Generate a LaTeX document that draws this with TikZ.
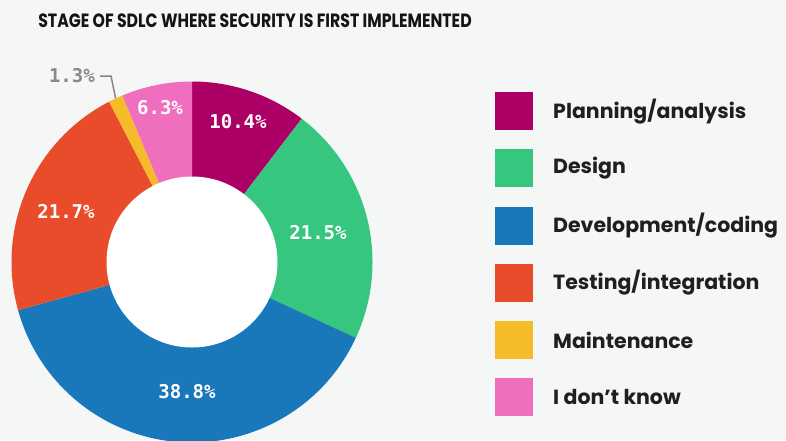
\documentclass[tikz,border=0pt]{standalone}
\usepackage{fontspec}
\usetikzlibrary{calc}
\setmainfont{Poppins}
\newfontfamily\pctfont{DejaVu Sans Mono}
\definecolor{bgc}{HTML}{F5F7F6}
\definecolor{cplan}{HTML}{AD0066}
\definecolor{cdesign}{HTML}{36C680}
\definecolor{cdev}{HTML}{1878BA}
\definecolor{ctest}{HTML}{E84C2A}
\definecolor{cmaint}{HTML}{F5BB28}
\definecolor{cidk}{HTML}{F06EBE}
\definecolor{cgray}{HTML}{888888}
\begin{document}
\begin{tikzpicture}[x=1pt,y=1pt,
  pct/.style={text=white,font=\pctfont\bfseries\fontsize{19}{22}\selectfont,inner sep=0pt},
  legbox/.style={minimum width=38pt,minimum height=38pt,inner sep=0pt,anchor=north west},
  legtext/.style={anchor=west,inner sep=0pt,font=\bfseries\fontsize{20.5}{24}\selectfont,text=black!88}]
\useasboundingbox (0,0) rectangle (786,-440);
\fill[bgc] (0,0) rectangle (786,-440);
\node[font=\bfseries\fontsize{19.2}{22}\selectfont,text=black!92,inner sep=0pt] (title) at (255,-21) {\scalebox{0.82}[1]{STAGE OF SDLC WHERE SECURITY IS FIRST IMPLEMENTED}};
\coordinate (C) at (192,-262);
\def\R{180.5}
\foreach \a/\b/\c in {90/52.56/cplan, 52.56/-24.84/cdesign, -24.84/-164.52/cdev, -164.52/-242.64/ctest, -242.64/-247.32/cmaint, -247.32/-270/cidk}{
  \fill[\c] (C) -- ++(\a:\R) arc[start angle=\a,end angle=\b,radius=\R] -- cycle;
}
\fill[white] (C) circle[radius=85.5];
\node[pct] (p1) at (238,-122) {10.4\%};
\node[pct] (p2) at (318,-233) {21.5\%};
\node[pct] (p3) at (187,-392) {38.8\%};
\node[pct] (p4) at (66,-211) {21.7\%};
\node[pct] (p6) at (160,-108) {6.3\%};
\node[pct,text=cgray,anchor=east] (p5) at (95,-76) {1.3\%};
\coordinate (m5) at ($(C)+(115.02:\R)$);
\draw[cgray,line width=1.5pt] (p5.east)++(5,0) -- ++(11,0) -- (m5);
\foreach \i/\c/\t in {0/cplan/Planning\slash analysis, 1/cdesign/Design, 2/cdev/Development\slash coding, 3/ctest/Testing\slash integration, 4/cmaint/Maintenance, 5/cidk/I don’t know}{
  \node[legbox,fill=\c] (lb\i) at (495,{-92-57.2*\i}) {};
  \node[legtext] (lt\i) at ($(lb\i.west)+(58,0)$) {\t};
}
\end{tikzpicture}
\end{document}
